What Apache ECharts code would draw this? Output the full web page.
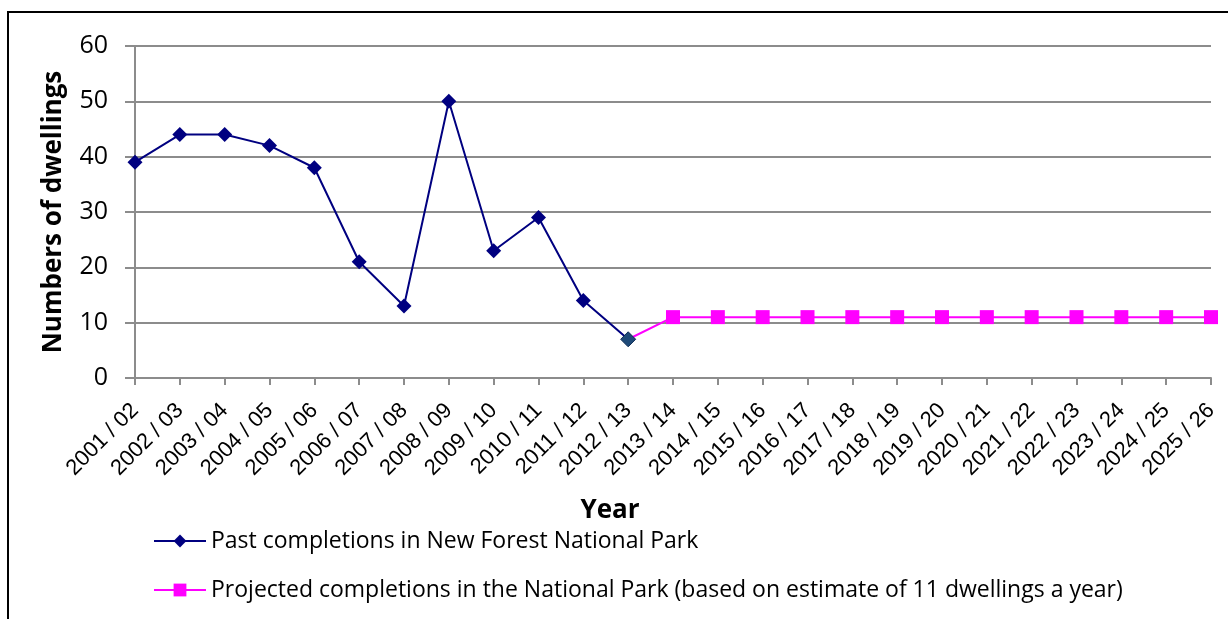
<!DOCTYPE html>
<html>
<head>
<meta charset="utf-8">
<script src="https://cdn.jsdelivr.net/npm/echarts@6/dist/echarts.min.js"></script>
<style>
  html, body { margin: 0; padding: 0; background: #fff; }
  #chart { width: 1228px; height: 619px; }
</style>
</head>
<body>
<div id="chart"></div>
<script>
// Financial years shown on the category axis
const years = [
  '2001 / 02', '2002 / 03', '2003 / 04', '2004 / 05', '2005 / 06', '2006 / 07',
  '2007 / 08', '2008 / 09', '2009 / 10', '2010 / 11', '2011 / 12', '2012 / 13',
  '2013 / 14', '2014 / 15', '2015 / 16', '2016 / 17', '2017 / 18', '2018 / 19',
  '2019 / 20', '2020 / 21', '2021 / 22', '2022 / 23', '2023 / 24', '2024 / 25',
  '2025 / 26'
];

// Recorded completions, 2001/02 to 2012/13
const pastCompletions = [39, 44, 44, 42, 38, 21, 13, 50, 23, 29, 14, 7];

// Projection of 11 dwellings a year, joined on to the last recorded year
const projectionStart = 7;
const projectedValue = 11;
const projectedYears = 13;

const yTicks = { min: 0, max: 60, interval: 10 };

const pastName = 'Past completions in New Forest National Park';
const projName = 'Projected completions in the National Park (based on estimate of 11 dwellings a year)';

const pastData = pastCompletions.map((v, i) =>
  i === pastCompletions.length - 1
    ? { value: v, itemStyle: { color: '#1f4a78', borderColor: '#0b2a55', borderWidth: 1 } }
    : v
);
const projData = years.map(() => null);
const startIdx = pastCompletions.length - 1;
projData[startIdx] = { value: projectionStart, symbolSize: 0 };
for (let k = 0; k < projectedYears; k++) projData[startIdx + 1 + k] = projectedValue;

const textFont = '"Open Sans", Lato, sans-serif';
const chart = echarts.init(document.getElementById('chart'));
chart.setOption({
  animation: false,
  backgroundColor: '#fff',
  graphic: [{
    type: 'rect',
    shape: { x: 8, y: 12, width: 1260, height: 660 },
    style: { fill: 'none', stroke: '#000', lineWidth: 2 },
    silent: true, z: -1
  }],
  grid: { left: 135, right: 17, top: 46, bottom: 241, containLabel: false },
  legend: {
    orient: 'vertical',
    left: 148, top: 522,
    itemWidth: 52, itemHeight: 16, itemGap: 21,
    textStyle: { fontFamily: textFont, fontSize: 23, lineHeight: 28, color: '#000' },
    data: [pastName, projName]
  },
  xAxis: {
    type: 'category',
    data: years,
    boundaryGap: false,
    name: 'Year',
    nameLocation: 'middle',
    nameGap: 120,
    nameTextStyle: {
      fontFamily: textFont, fontSize: 26, fontWeight: 'bold', color: '#000',
      padding: [0, 126, 0, 0]
    },
    axisLine: { lineStyle: { color: '#8c8c8c', width: 2 } },
    axisTick: { show: true, alignWithLabel: true, length: 7, lineStyle: { color: '#8c8c8c', width: 2 } },
    axisLabel: {
      rotate: 45, interval: 0, margin: 29,
      fontFamily: '"Liberation Sans", Arial, sans-serif', fontSize: 22, color: '#000'
    },
    splitLine: { show: false }
  },
  yAxis: {
    type: 'value',
    min: yTicks.min, max: yTicks.max, interval: yTicks.interval,
    name: 'Numbers of dwellings',
    nameLocation: 'middle',
    nameGap: 68,
    nameTextStyle: { fontFamily: textFont, fontSize: 26, fontWeight: 'bold', color: '#000' },
    axisLine: { show: true, lineStyle: { color: '#8c8c8c', width: 2 } },
    axisTick: { show: true, length: 10, lineStyle: { color: '#8c8c8c', width: 2 } },
    axisLabel: { margin: 27, fontFamily: textFont, fontSize: 25, color: '#000' },
    splitLine: { show: true, lineStyle: { color: '#8c8c8c', width: 2 } }
  },
  series: [
    {
      name: pastName,
      type: 'line',
      data: pastData,
      symbol: 'diamond',
      symbolSize: 15,
      itemStyle: { color: '#000080' },
      lineStyle: { color: '#000080', width: 2 },
      z: 3
    },
    {
      name: projName,
      type: 'line',
      data: projData,
      connectNulls: false,
      symbol: 'rect',
      symbolSize: 14,
      itemStyle: { color: '#ff00ff' },
      lineStyle: { color: '#ff00ff', width: 2 },
      z: 2
    }
  ]
});
</script>
</body>
</html>
